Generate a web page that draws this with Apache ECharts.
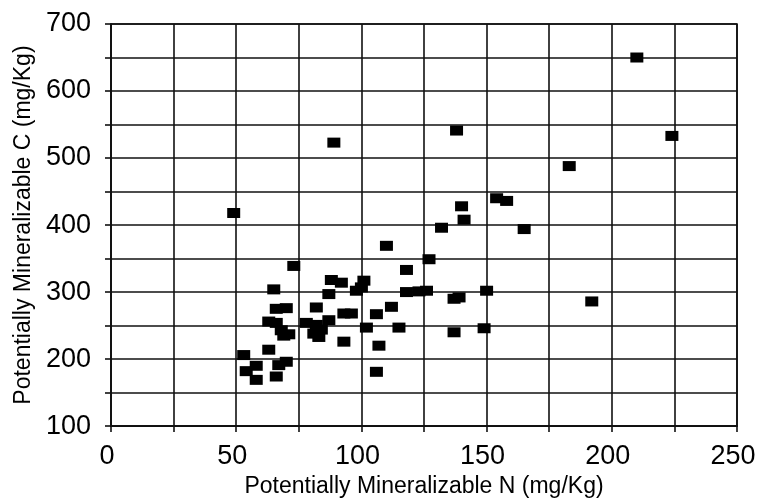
<!DOCTYPE html>
<html>
<head>
<meta charset="utf-8">
<script src="https://cdn.jsdelivr.net/npm/echarts/dist/echarts.min.js"></script>
<style>
  html, body { margin: 0; padding: 0; background: #ffffff; }
  #chart { width: 760px; height: 503px; }
</style>
</head>
<body>
<div id="chart"></div>
<script>
// Potentially mineralizable N and C per soil sample (mg/Kg)
const nitrogen = [
  49, 89, 210, 138, 224, 183, 140, 141, 132, 154, 158, 165, 110, 127, 118, 118,
  123, 126, 137, 139, 150, 192, 112, 115, 137, 149, 107, 106, 73, 88, 92, 65,
  87, 98, 100, 101, 66, 70, 82, 93, 96, 106, 102, 93, 78, 82, 84, 87,
  81, 83, 63, 66, 68, 69, 71, 63, 53, 58, 54, 58, 66, 67, 70
];
const carbon = [
  418, 523, 650, 541, 533, 488, 428, 408, 396, 440, 436, 394, 369, 349, 333, 300,
  301, 302, 290, 292, 302, 286, 278, 247, 240, 246, 220, 181, 339, 318, 314, 304,
  297, 302, 307, 317, 275, 276, 277, 268, 268, 267, 247, 226, 254, 251, 244, 258,
  238, 233, 256, 254, 243, 235, 237, 214, 206, 190, 182, 169, 174, 191, 196
];

// Axis ranges and labelled tick steps
const xTicks = [0, 50, 100, 150, 200, 250];
const yTicks = [100, 200, 300, 400, 500, 600, 700];

const xName = 'Potentially Mineralizable N (mg/Kg)';
const yName = 'Potentially Mineralizable C (mg/Kg)';

const points = nitrogen.map((n, i) => [n, carbon[i]]);

const ink = '#111111';
const font = 'Liberation Sans, Arial, Helvetica, sans-serif';
const gridLine = { color: ink, width: 1.6 };

const chart = echarts.init(document.getElementById('chart'), null, { renderer: 'canvas' });

chart.setOption({
  backgroundColor: '#ffffff',
  animation: false,
  grid: {
    left: 111, right: 23, top: 24, bottom: 75,
    show: true, borderColor: ink, borderWidth: 1.6
  },
  xAxis: {
    type: 'value',
    min: xTicks[0],
    max: xTicks[xTicks.length - 1],
    interval: xTicks[1] - xTicks[0],
    name: xName,
    nameLocation: 'middle',
    nameGap: 47,
    nameTextStyle: { fontFamily: font, fontSize: 23, color: '#000' },
    axisLine: { show: true, lineStyle: gridLine },
    axisTick: { show: true, length: 6, lineStyle: gridLine },
    minorTick: { show: true, splitNumber: 2, length: 6, lineStyle: gridLine },
    splitLine: { show: true, lineStyle: gridLine },
    minorSplitLine: { show: true, lineStyle: gridLine },
    axisLabel: { fontFamily: font, fontSize: 27, color: '#000', margin: 17, padding: [0, 8, 0, 0] }
  },
  yAxis: {
    type: 'value',
    min: yTicks[0],
    max: yTicks[yTicks.length - 1],
    interval: yTicks[1] - yTicks[0],
    name: yName,
    nameLocation: 'middle',
    nameGap: 75,
    nameTextStyle: { fontFamily: font, fontSize: 23, color: '#000' },
    axisLine: { show: true, lineStyle: gridLine },
    axisTick: { show: true, length: 6, lineStyle: gridLine },
    minorTick: { show: true, splitNumber: 2, length: 6, lineStyle: gridLine },
    splitLine: { show: true, lineStyle: gridLine },
    minorSplitLine: { show: true, lineStyle: gridLine },
    axisLabel: { fontFamily: font, fontSize: 27, color: '#000', margin: 20, padding: [0, 0, 16, 0] }
  },
  series: [{
    type: 'scatter',
    data: points,
    symbol: 'rect',
    symbolSize: [13, 10],
    itemStyle: { color: '#000000', opacity: 1 },
    z: 5
  }]
});
</script>
</body>
</html>
